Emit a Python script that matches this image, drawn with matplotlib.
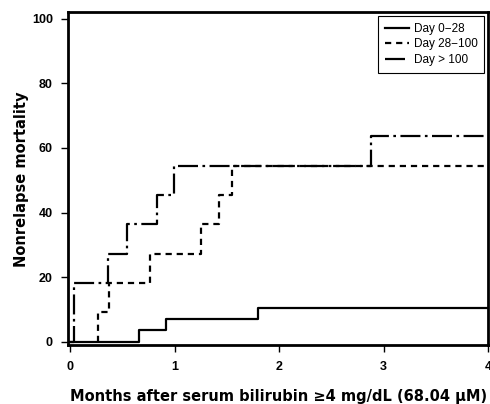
import matplotlib
matplotlib.use("Agg")
import matplotlib.pyplot as plt

# jump times (months) and cumulative nonrelapse mortality (%) after each jump
early_x = [0.0, 0.66, 0.92, 1.80]
early_y = [0.0, 3.6, 7.0, 10.6]

mid_x = [0.27, 0.27, 0.37, 0.76, 1.25, 1.42, 1.55]
mid_y = [0.0, 9.1, 18.2, 27.3, 36.4, 45.5, 54.5]

late_x = [0.0, 0.04, 0.36, 0.54, 0.83, 0.99, 2.88]
late_y = [0.0, 18.2, 27.3, 36.4, 45.5, 54.5, 63.6]

x_end = 4.0
labels = ["Day 0\u221228", "Day 28\u2212100", "Day > 100"]
xticks = [0, 1, 2, 3, 4]
yticks = [0, 20, 40, 60, 80, 100]

narrow = ["Liberation Sans Narrow", "Liberation Sans"]

fig = plt.figure(figsize=(4.9, 4.04), dpi=100)
ax = fig.add_axes([0.139, 0.145, 0.857, 0.825])

styles = [
    dict(),
    dict(dashes=(2.8, 2.2)),
    dict(dashes=(9, 2, 1.2, 2)),
]
for xs, ys, lab, st in zip([early_x, mid_x, late_x], [early_y, mid_y, late_y],
                           labels, styles):
    # hold the last level out to the end of follow-up
    ax.step(xs + [x_end], ys + [ys[-1]], where="post", color="black",
            lw=1.6, label=lab, **st)

ax.set_xlim(-0.02, 4.0)
ax.set_ylim(-1.1, 102)
ax.set_xticks(xticks)
ax.set_yticks(yticks)
for s in ax.spines.values():
    s.set_linewidth(2)
ax.tick_params(length=5, width=1, labelsize=9, pad=6)
for t in ax.get_xticklabels() + ax.get_yticklabels():
    t.set_fontfamily(narrow)
    t.set_fontweight("bold")

ax.set_xlabel("Months after serum bilirubin \u22654 mg/dL (68.04 \u03bcM)",
              fontsize=10.5, fontweight="bold", va="center")
ax.set_ylabel("Nonrelapse mortality", fontsize=10.5, fontweight="bold",
              va="center")
ax.xaxis.set_label_coords(0.5, -0.154)
ax.yaxis.set_label_coords(-0.11, 0.5)

leg = ax.legend(loc="upper right", handlelength=2.0,
                borderaxespad=0.3, fancybox=False, edgecolor="black",
                framealpha=1, handletextpad=0.4, labelspacing=0.3,
                borderpad=0.6,
                prop={"family": narrow, "size": 8.5})
leg.get_frame().set_linewidth(0.8)

fig.savefig("out.png", dpi=100)
